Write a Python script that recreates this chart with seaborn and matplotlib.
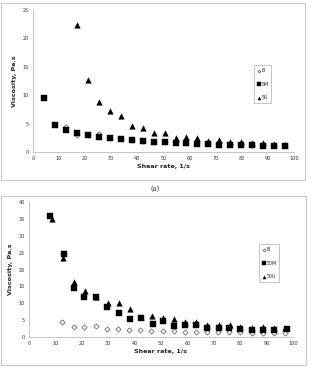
import numpy as np
import pandas as pd
import matplotlib
matplotlib.use("Agg")
import matplotlib.pyplot as plt
import seaborn as sns
from matplotlib.patches import Rectangle

sns.set_style("white")
plt.rcParams['font.family'] = ['DejaVu Sans']

# (a) data
x_a_sm = [4.2, 8.4, 12.6, 16.8, 21.0, 25.2, 29.4, 33.6, 37.8, 42.0, 46.2, 50.4,
          54.6, 58.8, 63.0, 67.2, 71.4, 75.6, 79.8, 84.0, 88.2, 92.4, 96.6]
sm_a = [9.5, 4.7, 3.8, 3.3, 3.0, 2.7, 2.5, 2.3, 2.1, 1.9, 1.8, 1.7,
        1.6, 1.5, 1.4, 1.4, 1.3, 1.3, 1.2, 1.2, 1.1, 1.0, 1.0]
x_a_b = x_a_sm[2:]
b_a = [4.4, 3.0, 3.0, 3.2, 2.4, 2.3, 2.1, 1.9, 1.8, 1.8, 1.7, 1.6,
       1.6, 1.5, 1.5, 1.4, 1.4, 1.3, 1.3, 1.2, 1.2]
x_a_su = x_a_sm[3:]
su_a = [22.4, 12.7, 8.8, 7.3, 6.3, 4.5, 4.3, 3.4, 3.4, 2.5, 2.7, 2.5,
        2.0, 2.1, 1.8, 1.7, 1.6, 1.5, 1.4, 1.3]

# (b) data
x_b_b = [12.5, 16.9, 21.0, 25.2, 29.5, 33.7, 38.0, 42.2, 46.4, 50.6, 54.8,
         59.0, 63.2, 67.4, 71.7, 75.9, 80.1, 84.3, 88.5, 92.7, 96.9]
b_b = [4.4, 2.9, 2.9, 3.2, 2.3, 2.3, 2.0, 2.0, 1.7, 1.9, 1.7,
       1.5, 1.5, 1.5, 1.5, 1.5, 1.4, 1.3, 1.3, 1.2, 1.2]
x_b_sm = [8.0, 13.4, 17.2, 21.0, 25.2, 29.5, 34.2, 38.4, 42.3, 46.8, 50.6,
          54.9, 59.0, 63.2, 67.6, 71.8, 75.9, 80.1, 84.3, 88.5, 92.7, 97.8]
sm_b = [36.0, 24.5, 14.4, 12.0, 11.8, 9.0, 7.0, 5.2, 5.6, 3.8, 4.7,
        3.3, 3.6, 3.5, 2.8, 2.8, 2.6, 2.3, 2.2, 2.1, 2.0, 2.3]
x_b_su = [8.6, 12.9, 17.0, 21.1, 25.3, 29.8, 34.0, 38.2, 42.6, 46.5, 50.7,
          55.0, 59.1, 63.4, 67.5, 71.9, 76.1, 80.0, 84.4, 88.6, 92.8, 96.8]
su_b = [35.0, 23.5, 16.3, 13.5, 11.8, 10.0, 10.2, 8.4, 5.8, 6.3, 5.6,
        5.3, 4.4, 4.3, 3.7, 3.6, 3.5, 3.1, 2.7, 2.9, 2.6, 2.8]

W, H = 311, 374
fig = plt.figure(figsize=(W / 100, H / 100), dpi=100)

def px_box(x0, y0, x1, y1):
    return [x0 / W, 1 - y1 / H, (x1 - x0) / W, (y1 - y0) / H]

# outer frames
for (x0, y0, x1, y1) in [(1, 3, 305, 180), (1, 196, 306, 365)]:
    fig.patches.append(Rectangle((x0 / W, 1 - y1 / H), (x1 - x0) / W, (y1 - y0) / H,
                                 transform=fig.transFigure, fill=False,
                                 edgecolor='#c8c8c8', linewidth=0.8))

ax1 = fig.add_axes(px_box(33, 10, 294, 152))
ax2 = fig.add_axes(px_box(29, 202, 293, 337))

def draw(ax, series, ymax, names, leg_pos):
    (xb, yb), (xm, ym), (xu, yu) = series
    sns.scatterplot(x=xb, y=yb, ax=ax, marker='D', s=7, color='white',
                    edgecolor='#555555', linewidth=0.5, label=names[0])
    sns.scatterplot(x=xm, y=ym, ax=ax, marker='s', s=16, color='black',
                    edgecolor='black', linewidth=0.3, label=names[1])
    sns.scatterplot(x=xu, y=yu, ax=ax, marker='^', s=16, color='black',
                    edgecolor='black', linewidth=0.3, label=names[2])
    ax.set_xlim(0, 100)
    ax.set_ylim(0, ymax)
    ax.set_xticks(np.arange(0, 101, 10))
    ax.set_yticks(np.arange(0, ymax + 1, 5))
    for s in ['top', 'right']:
        ax.spines[s].set_visible(False)
    for s in ['left', 'bottom']:
        ax.spines[s].set_color('#bbbbbb')
        ax.spines[s].set_linewidth(0.6)
    ax.tick_params(axis='both', labelsize=3.6, colors='#bbbbbb', labelcolor='#333333',
                   length=2, width=0.5, direction='inout', pad=2)
    ax.set_facecolor('none')
    ax.set_xlabel('Shear rate, 1/s', fontsize=4.6, fontweight='bold', labelpad=2)
    ax.set_ylabel('Viscosity, Pa.s', fontsize=4.6, fontweight='bold', labelpad=4)
    leg = ax.legend(loc='upper left', bbox_to_anchor=leg_pos, bbox_transform=fig.transFigure,
                    fontsize=3.4, frameon=True, fancybox=False, edgecolor='#999999',
                    handletextpad=0.2, handlelength=0.7, labelspacing=1.8,
                    borderpad=0.6, markerscale=0.55)
    leg.get_frame().set_linewidth(0.5)

draw(ax1, [(x_a_b, b_a), (x_a_sm, sm_a), (x_a_su, su_a)], 25, ['B', 'SM', 'SU'],
     (252 / W, 1 - 63 / H))
draw(ax2, [(x_b_b, b_b), (x_b_sm, sm_b), (x_b_su, su_b)], 40, ['B', '50M', '50U'],
     (257 / W, 1 - 242 / H))

fig.text(0.5, 1 - 189 / H, '(a)', ha='center', va='center', fontsize=4.8, color='#333333',
         family='DejaVu Serif')

fig.savefig('out.png', dpi=100)
